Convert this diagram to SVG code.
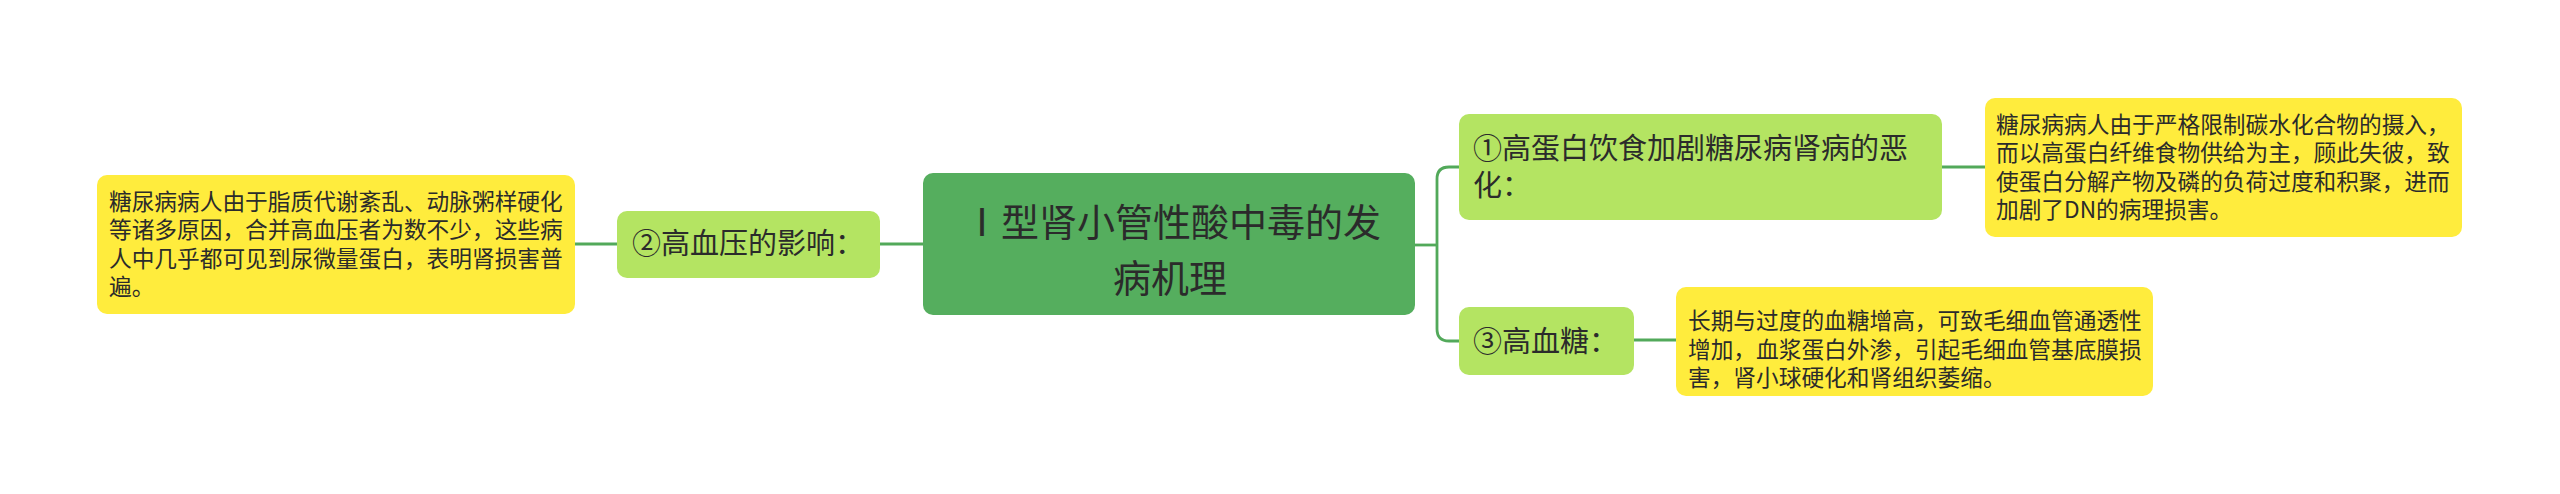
<svg xmlns="http://www.w3.org/2000/svg" width="2560" height="494" viewBox="0 0 2560 494">
<style>
text{font-family:"Noto Sans CJK SC","Noto Sans",sans-serif;fill:#2b2b2b}
.root{fill:#55AE5E}
.sub{fill:#B4E462}
.note{fill:#FFEC3D}
.t38{font-size:38px}
.t29{font-size:29px}
.t23{font-size:22.7px}
.conn{fill:none;stroke:#52A95A;stroke-width:2.8}
</style>
<rect width="2560" height="494" fill="#ffffff"/>
<g id="connectors">
<path class="conn" d="M575 244 H617"/>
<path class="conn" d="M880 244 H923"/>
<path class="conn" d="M1415 245 H1437"/>
<path class="conn" d="M1459 167 H1449 Q1437 167 1437 179 V329 Q1437 341 1449 341 H1459"/>
<path class="conn" d="M1942 167 H1985"/>
<path class="conn" d="M1634 340 H1676"/>
</g>
<g id="root">
<rect class="root" x="923" y="173" width="492" height="142" rx="10"/>
<text class="t38" text-anchor="middle"><tspan x="1172" y="235.5">Ⅰ型肾小管性酸中毒的发</tspan><tspan x="1170" y="292">病机理</tspan></text>
</g>
<g id="n2">
<rect class="sub" x="617" y="211" width="263" height="67" rx="10"/>
<text class="t29" x="632" y="254">②高血压的影响：</text>
</g>
<g id="n2note">
<rect class="note" x="97" y="175" width="478" height="139" rx="10"/>
<text class="t23"><tspan x="109" y="209.5">糖尿病病人由于脂质代谢紊乱、动脉粥样硬化</tspan><tspan x="109" y="238">等诸多原因，合并高血压者为数不少，这些病</tspan><tspan x="109" y="266.5">人中几乎都可见到尿微量蛋白，表明肾损害普</tspan><tspan x="109" y="295">遍。</tspan></text>
</g>
<g id="n1">
<rect class="sub" x="1459" y="114" width="483" height="106" rx="10"/>
<text class="t29"><tspan x="1473" y="158.5">①高蛋白饮食加剧糖尿病肾病的恶</tspan><tspan x="1473" y="195.5">化：</tspan></text>
</g>
<g id="n1note">
<rect class="note" x="1985" y="98" width="477" height="139" rx="10"/>
<text class="t23"><tspan x="1996" y="132.5">糖尿病病人由于严格限制碳水化合物的摄入，</tspan><tspan x="1996" y="161">而以高蛋白纤维食物供给为主，顾此失彼，致</tspan><tspan x="1996" y="189.5">使蛋白分解产物及磷的负荷过度和积聚，进而</tspan><tspan x="1996" y="218">加剧了DN的病理损害。</tspan></text>
</g>
<g id="n3">
<rect class="sub" x="1459" y="307" width="175" height="68" rx="10"/>
<text class="t29" x="1473" y="352">③高血糖：</text>
</g>
<g id="n3note">
<rect class="note" x="1676" y="287" width="477" height="109" rx="10"/>
<text class="t23"><tspan x="1688" y="329">长期与过度的血糖增高，可致毛细血管通透性</tspan><tspan x="1688" y="357.5">增加，血浆蛋白外渗，引起毛细血管基底膜损</tspan><tspan x="1688" y="386">害，肾小球硬化和肾组织萎缩。</tspan></text>
</g>
</svg>
